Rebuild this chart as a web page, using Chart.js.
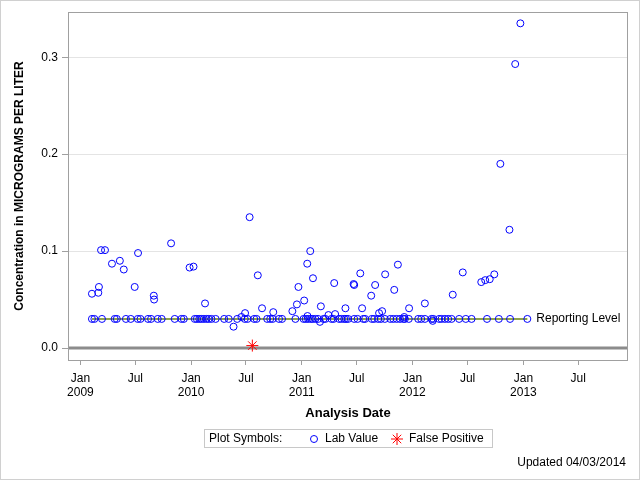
<!DOCTYPE html>
<html>
<head>
<meta charset="utf-8">
<script src="https://cdn.jsdelivr.net/npm/chart.js@4.4.1/dist/chart.umd.min.js"></script>
<style>
  body { margin: 0; background: #fff; }
  canvas { display: block; }
</style>
</head>
<body>
<canvas id="graph" width="640" height="480"></canvas>
<script>
/* données */
var labDates = [
  '2009-02-08','2009-02-08','2009-02-16','2009-03-01','2009-03-03','2009-03-10','2009-03-13','2009-03-23',
  '2009-04-15','2009-04-24','2009-05-01','2009-05-11','2009-05-24','2009-05-31','2009-06-16','2009-06-29',
  '2009-07-09','2009-07-10','2009-07-18','2009-08-12','2009-08-22','2009-08-31','2009-09-01','2009-09-13',
  '2009-09-26','2009-10-27','2009-11-08','2009-11-30','2009-12-08','2009-12-27',
  '2010-01-09','2010-01-13','2010-01-20','2010-01-28','2010-02-04','2010-02-12','2010-02-16','2010-02-21',
  '2010-02-28','2010-03-09','2010-03-23','2010-04-20','2010-05-05','2010-05-21','2010-06-02','2010-06-16',
  '2010-06-27','2010-06-28','2010-07-06','2010-07-13','2010-07-28','2010-08-05','2010-08-09','2010-08-23',
  '2010-09-09','2010-09-19','2010-09-27','2010-09-29','2010-10-18','2010-10-28','2010-12-01','2010-12-11',
  '2010-12-16','2010-12-21',
  '2011-01-07','2011-01-09','2011-01-14','2011-01-19','2011-01-20','2011-01-22','2011-01-29','2011-01-31',
  '2011-02-06','2011-02-07','2011-02-15','2011-02-24','2011-03-02','2011-03-05','2011-03-14','2011-03-20',
  '2011-03-30','2011-04-09','2011-04-16','2011-04-18','2011-04-21','2011-05-04','2011-05-12','2011-05-21',
  '2011-05-25','2011-05-27','2011-06-03','2011-06-21','2011-06-23','2011-06-23','2011-07-04','2011-07-13',
  '2011-07-19','2011-07-23','2011-07-29','2011-08-18','2011-08-20','2011-08-28','2011-08-31','2011-09-10',
  '2011-09-13','2011-09-19','2011-09-23','2011-10-02','2011-10-03','2011-10-20','2011-10-30','2011-11-02',
  '2011-11-10','2011-11-14','2011-11-21','2011-12-02','2011-12-05','2011-12-07','2011-12-20','2011-12-21',
  '2012-01-20','2012-01-30','2012-02-11','2012-02-11','2012-03-04','2012-03-08','2012-03-10','2012-03-29',
  '2012-04-06','2012-04-17','2012-04-28','2012-05-09','2012-05-13','2012-06-03','2012-06-15','2012-06-25',
  '2012-07-14','2012-08-15','2012-08-28','2012-09-03','2012-09-12','2012-09-27','2012-10-12','2012-10-17',
  '2012-11-16','2012-11-18','2012-12-05','2012-12-22',
  '2013-01-14'
];
var labValues = [
  0.03, 0.056, 0.03, 0.057, 0.063, 0.101, 0.03, 0.101,
  0.087, 0.03, 0.03, 0.090, 0.081, 0.03, 0.03, 0.063,
  0.03, 0.098, 0.03, 0.03, 0.03, 0.054, 0.050, 0.03,
  0.03, 0.108, 0.03, 0.03, 0.03, 0.083,
  0.084, 0.03, 0.03, 0.03, 0.03, 0.03, 0.046, 0.03,
  0.03, 0.03, 0.03, 0.03, 0.03, 0.022, 0.03, 0.032,
  0.03, 0.036, 0.03, 0.135, 0.03, 0.03, 0.075, 0.041,
  0.03, 0.03, 0.03, 0.037, 0.03, 0.03, 0.038, 0.03,
  0.045, 0.063,
  0.03, 0.049, 0.03, 0.087, 0.033, 0.03, 0.100, 0.03,
  0.03, 0.072, 0.03, 0.03, 0.027, 0.043, 0.03, 0.03,
  0.034, 0.03, 0.03, 0.067, 0.035, 0.03, 0.03, 0.03,
  0.041, 0.03, 0.03, 0.066, 0.03, 0.065, 0.03, 0.077,
  0.041, 0.03, 0.03, 0.054, 0.03, 0.03, 0.065, 0.03,
  0.036, 0.03, 0.038, 0.03, 0.076, 0.03, 0.03, 0.060,
  0.03, 0.086, 0.03, 0.03, 0.032, 0.03, 0.03, 0.041,
  0.03, 0.03, 0.03, 0.046, 0.03, 0.028, 0.03, 0.03,
  0.03, 0.03, 0.03, 0.03, 0.055, 0.03, 0.078, 0.03,
  0.03, 0.068, 0.070, 0.03, 0.071, 0.076, 0.03, 0.190,
  0.122, 0.03, 0.293, 0.335,
  0.03
];
var fauxPositifDates = ['2010-07-22'];
var fauxPositifValues = [0.0025];

var reportingLevel = 0.03;

var tickDates = ['2009-01-01','2009-07-01','2010-01-01','2010-07-01','2011-01-01',
                 '2011-07-01','2012-01-01','2012-07-01','2013-01-01','2013-07-01'];
var tickLabels = [['Jan','2009'],['Jul'],['Jan','2010'],['Jul'],['Jan','2011'],
                  ['Jul'],['Jan','2012'],['Jul'],['Jan','2013'],['Jul']];
var yTicks = [0, 0.1, 0.2, 0.3];

var xMin = '2008-11-21';
var xMax = '2013-12-12';

/* conversion date -> jours depuis le 01/01/2009 */
function jour(s) {
  var p = s.split('-').map(Number);
  return (Date.UTC(p[0], p[1] - 1, p[2]) - Date.UTC(2009, 0, 1)) / 864e5;
}

var police = "'Liberation Sans', Arial, sans-serif";
var bleu = '#0000ff';
var rouge = '#ff0000';
var vertRL = '#8fa24c';
var gris = '#a0a0a0';

var labPoints = labDates.map(function (d, i) { return { x: jour(d), y: labValues[i] }; });
var fpPoints = fauxPositifDates.map(function (d, i) { return { x: jour(d), y: fauxPositifValues[i] }; });
var rlLine = [
  { x: jour(labDates[0]), y: reportingLevel },
  { x: jour(labDates[labDates.length - 1]), y: reportingLevel }
];

/* plugin : cadre, ligne zéro, légende, textes */
const decor = {
  id: 'decor',
  beforeDatasetsDraw: function (chart) {
    var ctx = chart.ctx, a = chart.chartArea;
    var y0 = chart.scales.y.getPixelForValue(0);
    ctx.save();
    ctx.strokeStyle = '#8c8c8c';
    ctx.lineWidth = 3;
    ctx.beginPath();
    ctx.moveTo(a.left, y0);
    ctx.lineTo(a.right, y0);
    ctx.stroke();
    ctx.restore();
  },
  afterDatasetsDraw: function (chart) {
    var ctx = chart.ctx, a = chart.chartArea;
    ctx.save();
    ctx.strokeStyle = gris;
    ctx.lineWidth = 1;
    ctx.strokeRect(a.left + 0.5, a.top + 0.5, a.right - a.left - 1, a.bottom - a.top);
    // étiquette Reporting Level
    var last = rlLine[rlLine.length - 1];
    ctx.fillStyle = '#000';
    ctx.font = '12px ' + police;
    ctx.textBaseline = 'middle';
    ctx.textAlign = 'left';
    ctx.fillText('Reporting Level', chart.scales.x.getPixelForValue(last.x) + 9,
                 chart.scales.y.getPixelForValue(last.y));
    ctx.restore();
  },
  afterDraw: function (chart) {
    var ctx = chart.ctx;
    ctx.save();
    // légende
    ctx.strokeStyle = '#c8c8c8';
    ctx.lineWidth = 1;
    ctx.strokeRect(204.5, 429.5, 288, 18);
    ctx.fillStyle = '#000';
    ctx.font = '12px ' + police;
    ctx.textBaseline = 'middle';
    ctx.textAlign = 'left';
    ctx.fillText('Plot Symbols:', 209, 439);
    ctx.fillText('Lab Value', 325, 439);
    ctx.fillText('False Positive', 409, 439);
    ctx.fillStyle = 'rgba(0,0,0,0)';
    ctx.strokeStyle = bleu;
    Chart.helpers.drawPoint(ctx, { pointStyle: 'circle', radius: 3.5, borderWidth: 1 }, 314, 439);
    ctx.strokeStyle = rouge;
    Chart.helpers.drawPoint(ctx, { pointStyle: 'star', radius: 6, borderWidth: 1 }, 397, 439);
    // date de mise à jour
    ctx.fillStyle = '#000';
    ctx.textAlign = 'right';
    ctx.fillText('Updated 04/03/2014', 626, 463);
    // bordure extérieure
    ctx.strokeStyle = '#d0d0d0';
    ctx.strokeRect(0.5, 0.5, 639, 479);
    ctx.restore();
  }
};

const graphElem = document.getElementById('graph').getContext('2d');

const graphObj = new Chart(graphElem, {
  type: 'scatter',
  data: {
    datasets: [
      {
        label: 'Lab Value',
        data: labPoints,
        pointStyle: 'circle',
        pointRadius: 3.5,
        borderWidth: 1,
        borderColor: bleu,
        backgroundColor: 'rgba(0,0,0,0)',
        order: 1
      },
      {
        label: 'False Positive',
        data: fpPoints,
        pointStyle: 'star',
        pointRadius: 6,
        borderWidth: 1,
        borderColor: rouge,
        backgroundColor: rouge,
        order: 0
      },
      {
        label: 'Reporting Level',
        type: 'line',
        data: rlLine,
        borderColor: vertRL,
        borderWidth: 2,
        pointRadius: 0,
        fill: false,
        order: 2
      }
    ]
  },
  options: {
    responsive: false,
    animation: false,
    devicePixelRatio: 1,
    layout: { padding: { left: 0, top: 12, right: 12, bottom: 0 } },
    plugins: {
      legend: { display: false },
      tooltip: { enabled: false }
    },
    scales: {
      x: {
        type: 'linear',
        min: jour(xMin),
        max: jour(xMax),
        afterBuildTicks: function (axis) {
          axis.ticks = tickDates.map(function (d) { return { value: jour(d) }; });
        },
        afterFit: function (axis) { axis.height = 120; },
        grid: { drawOnChartArea: false, drawTicks: true, tickLength: 5, tickColor: gris },
        border: { display: false },
        ticks: {
          padding: 6,
          maxRotation: 0,
          autoSkip: false,
          color: '#000',
          font: { family: police, size: 12 },
          callback: function (value) {
            var i = tickDates.map(jour).indexOf(value);
            return i >= 0 ? tickLabels[i] : '';
          }
        },
        title: {
          display: true,
          text: 'Analysis Date',
          color: '#000',
          font: { family: police, size: 13, weight: 'bold' },
          padding: { top: 0, bottom: 59 }
        }
      },
      y: {
        min: -0.01237,
        max: 0.3467,
        afterBuildTicks: function (axis) {
          axis.ticks = yTicks.map(function (v) { return { value: v }; });
        },
        afterFit: function (axis) { axis.width = 68; },
        grid: {
          color: function (c) { return c.tick && c.tick.value === 0 ? 'rgba(0,0,0,0)' : '#e4e4e4'; },
          tickColor: gris,
          tickLength: 6
        },
        border: { display: false },
        ticks: {
          padding: 4,
          color: '#000',
          font: { family: police, size: 12 },
          callback: function (value) { return value.toFixed(1); }
        },
        title: {
          display: true,
          text: 'Concentration in MICROGRAMS PER LITER',
          color: '#000',
          font: { family: police, size: 12, weight: 'bold' },
          padding: { top: 12, bottom: 0 }
        }
      }
    }
  },
  plugins: [decor]
});
</script>
</body>
</html>
